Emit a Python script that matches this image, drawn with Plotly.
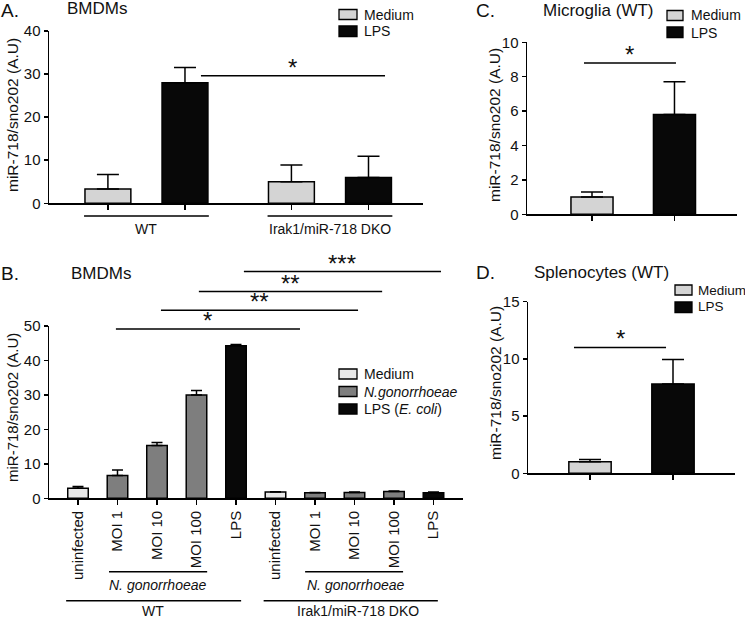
import plotly.graph_objects as go

W, H = 745, 618

# ---------------- data ----------------
# Panel A (BMDMs)
A_groups = ["WT", "Irak1/miR-718 DKO"]
A_medium = [3.3, 5.0]
A_medium_err = [3.4, 3.9]
A_lps = [28.0, 6.0]
A_lps_err = [3.5, 4.9]

# Panel B (BMDMs, N. gonorrhoeae)
B_conditions = ["uninfected", "MOI 1", "MOI 10", "MOI 100", "LPS"]
B_treatment = ["Medium", "N.gonorrhoeae", "N.gonorrhoeae", "N.gonorrhoeae", "LPS"]
B_genotypes = ["WT", "Irak1/miR-718 DKO"]
B_wt = [2.9, 6.6, 15.3, 30.0, 44.3]
B_wt_err = [0.5, 1.6, 0.9, 1.3, 0.3]
B_dko = [1.8, 1.6, 1.7, 2.0, 1.6]
B_dko_err = [0.1, 0.1, 0.1, 0.15, 0.2]

# Panel C (Microglia)
C_groups = ["Medium", "LPS"]
C_values = [1.0, 5.8]
C_err = [0.3, 1.9]

# Panel D (Splenocytes)
D_groups = ["Medium", "LPS"]
D_values = [1.0, 7.8]
D_err = [0.2, 2.15]

# significance bars: (x0, x1, y, label) in data units
A_sig = [(0.297, 1.30, 29.6, "*")]
B_sig = [(0.96, 5.62, 49.1, "*"), (2.10, 7.09, 54.6, "**"),
         (3.06, 7.70, 60.0, "**"), (4.20, 9.19, 65.8, "***")]
C_sig = [(-0.097, 1.018, 8.8, "*")]
D_sig = [(-0.193, 0.916, 11.0, "*")]

COLORS = {"Medium": "#d4d4d4", "N.gonorrhoeae": "#7e7e7e", "LPS": "#080808"}
B_MEDIUM = "#e8e8e8"
FONT = "Arial, Liberation Sans, Helvetica, sans-serif"
YTITLE = "miR-718/sno202 (A.U)"

# ---------------- geometry ----------------
def fx(p):
    return p / W

def fy(p):
    return 1 - p / H

AX = {
    "A": dict(x="x", y="y", xdom=[fx(49), fx(423)], xr=[-0.531, 1.507],
              ydom=[fy(203.3), fy(31)], yr=[0, 40], dt=10),
    "B": dict(x="x2", y="y2", xdom=[fx(49), fx(463)], xr=[-0.734, 9.747],
              ydom=[fy(498.3), fy(326)], yr=[0, 50], dt=10),
    "C": dict(x="x3", y="y3", xdom=[fx(527), fx(737)], xr=[-0.788, 1.758],
              ydom=[fy(214.3), fy(42.3)], yr=[0, 10], dt=2),
    "D": dict(x="x4", y="y4", xdom=[fx(528), fx(735)], xr=[-0.747, 1.747],
              ydom=[fy(473.3), fy(301.7)], yr=[0, 15], dt=5),
}

def dpx(panel, v):
    a = AX[panel]
    return a["xdom"][0] + (v - a["xr"][0]) / (a["xr"][1] - a["xr"][0]) * (a["xdom"][1] - a["xdom"][0])

def dpy(panel, v):
    a = AX[panel]
    return a["ydom"][0] + (v - a["yr"][0]) / (a["yr"][1] - a["yr"][0]) * (a["ydom"][1] - a["ydom"][0])

fig = go.Figure()
line = dict(color="black", width=1.5)

def err(arr, w):
    return dict(type="data", array=arr, arrayminus=[0] * len(arr), symmetric=False,
                color="black", thickness=1.5, width=w, visible=True)

# Panel A bars
A_off = 0.21
A_xm = [i - A_off for i in range(len(A_groups))]
A_xl = [i + A_off for i in range(len(A_groups))]
fig.add_bar(x=A_xm, y=A_medium, width=0.25, marker=dict(color=COLORS["Medium"], line=line),
            error_y=err(A_medium_err, 11), xaxis="x", yaxis="y")
fig.add_bar(x=A_xl, y=A_lps, width=0.25, marker=dict(color=COLORS["LPS"], line=line),
            error_y=err(A_lps_err, 11), xaxis="x", yaxis="y")

# Panel B bars
n = len(B_conditions)
B_cols = [B_MEDIUM if t == "Medium" else COLORS[t] for t in B_treatment]
fig.add_bar(x=list(range(n)), y=B_wt, width=0.52, marker=dict(color=B_cols, line=line),
            error_y=err(B_wt_err, 5.5), xaxis="x2", yaxis="y2")
fig.add_bar(x=[n + i for i in range(n)], y=B_dko, width=0.52, marker=dict(color=B_cols, line=line),
            error_y=err(B_dko_err, 5.5), xaxis="x2", yaxis="y2")

# Panel C and D bars
for panel, vals, errs in (("C", C_values, C_err), ("D", D_values, D_err)):
    a = AX[panel]
    fig.add_bar(x=list(range(len(vals))), y=vals, width=0.51,
                marker=dict(color=[COLORS[g] for g in C_groups], line=line),
                error_y=err(errs, 11), xaxis=a["x"], yaxis=a["y"])

# ---------------- axes ----------------
layout = dict(width=W, height=H, margin=dict(l=0, r=0, t=0, b=0, autoexpand=False),
              paper_bgcolor="white", plot_bgcolor="white", showlegend=False,
              barmode="overlay", font=dict(family=FONT, color="#111", size=15))

xticks = {
    "A": (A_xm + A_xl, [""] * 4),
    "B": (list(range(2 * n)), B_conditions * 2),
    "C": ([0, 1], ["", ""]),
    "D": ([0, 1], ["", ""]),
}
for k, a in AX.items():
    xn = "xaxis" + a["x"][1:]
    yn = "yaxis" + a["y"][1:]
    tv, tt = xticks[k]
    layout[xn] = dict(domain=a["xdom"], range=a["xr"], anchor=a["y"], showline=True,
                      linecolor="black", linewidth=1.5, ticks="outside", ticklen=5,
                      tickwidth=1.5, tickcolor="black", showgrid=False, zeroline=False,
                      tickvals=tv, ticktext=tt, tickangle=-90 if k == "B" else 0,
                      automargin=False,
                      tickfont=dict(size=15, family=FONT, color="#111"), fixedrange=True)
    layout[yn] = dict(domain=a["ydom"], range=a["yr"], anchor=a["x"], showline=True,
                      linecolor="black", linewidth=1.5, ticks="outside", ticklen=4,
                      tickwidth=1.5, tickcolor="black", showgrid=False, zeroline=False,
                      automargin=False,
                      dtick=a["dt"], tick0=0, tickfont=dict(size=15, family=FONT, color="#111"),
                      fixedrange=True)

shapes = []
annots = []

def txt(x, y, s, size=15, anchor="left", italic=False, angle=0):
    annots.append(dict(x=x, y=y, xref="paper", yref="paper", text=s, showarrow=False,
                       xanchor=anchor, yanchor="middle", textangle=angle,
                       font=dict(size=size, family=FONT, color="#111",
                                 style="italic" if italic else "normal")))

def hline(x0, x1, y):
    shapes.append(dict(type="line", xref="paper", yref="paper", x0=x0, x1=x1, y0=y, y1=y,
                       line=dict(color="black", width=1.5)))

def box(x0, x1, y0, y1, color):
    shapes.append(dict(type="rect", xref="paper", yref="paper", x0=fx(x0), x1=fx(x1),
                       y0=fy(y1), y1=fy(y0), fillcolor=color, line=dict(color="black", width=1.3)))

# significance bars
for panel, sigs in (("A", A_sig), ("B", B_sig), ("C", C_sig), ("D", D_sig)):
    for x0, x1, y, lab in sigs:
        hline(dpx(panel, x0), dpx(panel, x1), dpy(panel, y))
        annots.append(dict(x=dpx(panel, (x0 + x1) / 2), y=dpy(panel, y), xref="paper",
                           yref="paper", text=lab, showarrow=False, xanchor="center",
                           yanchor="bottom", yshift=-7,
                           font=dict(size=24, family=FONT, color="#111")))

# group brackets, panel A
A_half = 0.34
for i, g in enumerate(A_groups):
    hline(dpx("A", i - A_half), dpx("A", i + A_half), fy(216))
    txt(dpx("A", i), fy(229.5), g, size=14, anchor="center")

# group brackets, panel B
for j, g in enumerate(B_genotypes):
    base = j * n
    hline(dpx("B", base + 0.785 - 0.035 * j), dpx("B", base + 3.27 - 0.04 * j), fy(571.7))
    txt(dpx("B", base + 2.03), fy(584.5), "N. gonorrhoeae", size=14, anchor="center", italic=True)
    hline(dpx("B", base - 0.30), dpx("B", base + 4.13 - 0.02 * j), fy(600.7))
    txt(dpx("B", base + 1.9 + 0.2 * j), fy(611), g, size=14, anchor="center")

# legends
box(339, 357, 9.5, 19.5, COLORS["Medium"]); txt(fx(362), fy(14.5), "Medium", 14)
box(339, 357, 26, 36.5, COLORS["LPS"]); txt(fx(362), fy(31.5), "LPS", 14)

box(339, 357, 369, 379, B_MEDIUM); txt(fx(362), fy(374), "Medium", 14)
box(339, 357, 386.5, 396.5, COLORS["N.gonorrhoeae"]); txt(fx(362), fy(391.5), "N.gonorrhoeae", 14, italic=True)
box(339, 357, 404, 414, COLORS["LPS"]); txt(fx(362), fy(409), "LPS (<i>E. coli</i>)", 14)

box(667, 683, 10.5, 20.5, COLORS["Medium"]); txt(fx(689), fy(15.5), "Medium", 14)
box(667, 683, 27, 37.5, COLORS["LPS"]); txt(fx(689), fy(32.5), "LPS", 14)

box(675, 692, 285, 295, COLORS["Medium"]); txt(fx(696), fy(290), "Medium", 13.5)
box(675, 692, 302, 312.5, COLORS["LPS"]); txt(fx(696), fy(307), "LPS", 13.5)

# panel letters & titles
txt(fx(-1), fy(11), "A.", 19)
txt(fx(65), fy(9), "BMDMs", 17)
txt(fx(-1), fy(273), "B.", 19)
txt(fx(69), fy(274), "BMDMs", 17)
txt(fx(474), fy(11), "C.", 19)
txt(fx(541), fy(10), "Microglia (WT)", 17)
txt(fx(474), fy(272), "D.", 19)
txt(fx(532), fy(272), "Splenocytes (WT)", 17)

# y-axis titles
txt(fx(12), fy(115), YTITLE, 15.5, anchor="center", angle=-90)
txt(fx(12), fy(408), YTITLE, 15, anchor="center", angle=-90)
txt(fx(495), fy(125), YTITLE, 15.5, anchor="center", angle=-90)
txt(fx(495), fy(383), YTITLE, 15.5, anchor="center", angle=-90)

layout["shapes"] = shapes
layout["annotations"] = annots
fig.update_layout(**layout)
fig.write_html("out.html", config={"displayModeBar": False, "staticPlot": True},
               post_script="document.body.style.margin='0px';document.body.style.overflow='hidden';")
